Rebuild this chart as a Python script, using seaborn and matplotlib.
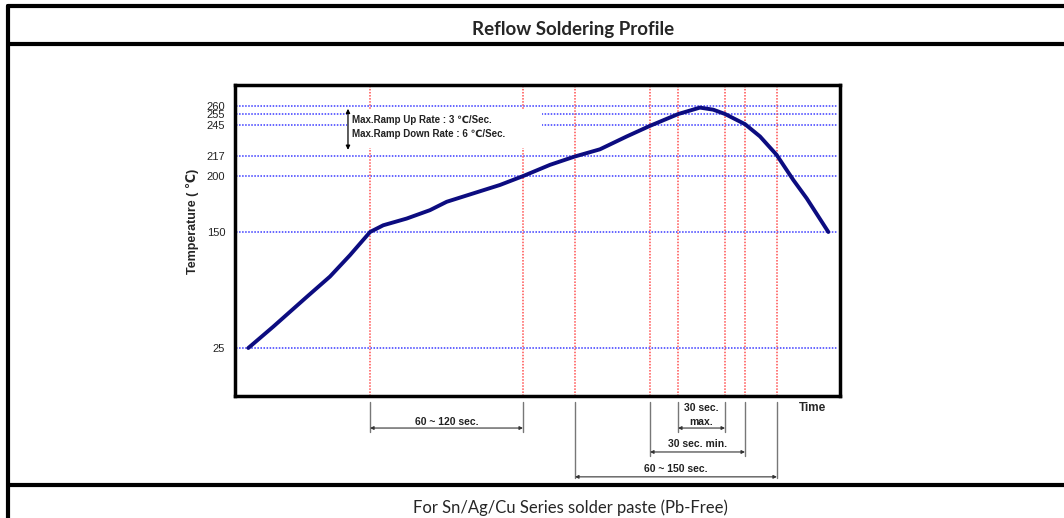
"""Reflow soldering profile (Pb-free) drawn with seaborn."""

import matplotlib
matplotlib.use('Agg')
import matplotlib.pyplot as plt
from matplotlib.lines import Line2D
from matplotlib.patches import Rectangle
import numpy as np
import seaborn as sns

# profile curve: time (arbitrary units) and temperature (C)
time = [8.8, 25.3, 47.4, 62.8, 76.0, 89.3, 98.0, 113.5, 128.9, 140.0,
        157.6, 175.2, 190.6, 208.3, 224.5, 241.3, 259.0, 274.4, 293.1,
        307.4, 316.2, 324.0, 337.2, 347.1, 358.1, 369.1, 378.0, 392.3]
temp = [25, 48, 80, 102, 125, 150, 156, 162, 169.5, 177,
        184.5, 192, 200, 209.5, 216.5, 223, 234.5, 244, 255,
        259, 257.7, 255, 245.5, 234.5, 218, 196.5, 180, 150]

temp_ticks = [25, 150, 200, 217, 245, 255, 260]
time_marks = [89.3, 190.4, 224.8, 274.4, 292.9, 324.0, 337.2, 358.3]

# spans under the time axis: (start, end, label)
spans = [
    (89.3, 190.4, '60 ~ 120 sec.'),
    (292.9, 324.0, '30 sec.\nmax.'),
    (274.4, 337.2, '30 sec. min.'),
    (224.8, 358.3, '60 ~ 150 sec.'),
]

# the temperature axis of the original is not evenly spaced
scale_t = [-27, 25, 150, 200, 217, 245, 255, 260, 275]
scale_pos = [0, 48, 164, 220, 240, 271.3, 282, 290, 311]


def forward(t):
    return np.interp(t, scale_t, scale_pos)


def inverse(p):
    return np.interp(p, scale_pos, scale_t)


sns.set_style('white')
plt.rcParams['font.family'] = ['Liberation Sans', 'DejaVu Sans']

fig = plt.figure(figsize=(10.64, 5.18), dpi=100)
W, H = 1064, 518
ax = fig.add_axes([235 / W, (H - 396) / H, 605 / W, 311 / H])
ax.set_yscale('function', functions=(forward, inverse))
ax.set_xlim(0, 400)
ax.set_ylim(-27, 275)

# guide lines
for t in temp_ticks:
    ax.axhline(t, xmin=0.002, xmax=0.995, color='#3a3aff', lw=1.1,
               ls=(0, (1, 1)), zorder=1)
for m in time_marks:
    ax.axvline(m, color='#ff5050', lw=1.1, ls=(0, (1, 1)), zorder=1)

# blank area behind the ramp rate note
ax.add_patch(Rectangle((74, 224), 129, 33.5, facecolor='white',
                       edgecolor='none', zorder=2))
ax.annotate('', xy=(74.7, 260), xytext=(74.7, 220),
            arrowprops=dict(arrowstyle='<|-|>', color='black', lw=0.9,
                            mutation_scale=6), zorder=3)
ax.text(77.4, 249.4, 'Max.Ramp Up Rate : 3 \u2103/Sec.', fontsize=7,
        fontweight='bold', color='#222222', va='center', zorder=3)
ax.text(77.4, 236.7, 'Max.Ramp Down Rate : 6 \u2103/Sec.', fontsize=7,
        fontweight='bold', color='#222222', va='center', zorder=3)

sns.lineplot(x=time, y=temp, ax=ax, color='#0c0c80', lw=2.8, sort=False,
             zorder=4, solid_joinstyle='round', solid_capstyle='round')

ax.set_xticks([])
ax.set_yticks(temp_ticks)
ax.set_yticklabels([str(t) for t in temp_ticks], fontsize=8,
                   color='#222222')
ax.tick_params(axis='y', length=0, pad=7)
ax.set_xlabel('')
ax.set_ylabel('Temperature ( \u2103)', fontsize=9, fontweight='bold')
ax.yaxis.set_label_coords((199 - 235) / 605, 0.56)
for s in ax.spines.values():
    s.set_color('black')
    s.set_linewidth(2.5)

# spans below the axis
trans = ax.get_xaxis_transform()
rows = [(-0.116, -0.103, -0.082), (-0.116, -0.103, -0.06),
        (-0.193, -0.180, -0.154), (-0.264, -0.260, -0.235)]
for (a, b, label), (bottom, arrow_y, text_y) in zip(spans, rows):
    for x in (a, b):
        ax.add_line(Line2D([x, x], [-0.019, bottom], transform=trans,
                           color='#777777', lw=1, clip_on=False))
    ax.annotate('', xy=(b, arrow_y), xytext=(a, arrow_y), xycoords=trans,
                textcoords=trans,
                arrowprops=dict(arrowstyle='<|-|>', color='#333333', lw=0.8,
                                mutation_scale=5, shrinkA=0, shrinkB=0),
                annotation_clip=False)
    ax.text((a + b) / 2, text_y, label, transform=trans, fontsize=7.5,
            fontweight='bold', color='#222222', ha='center', va='center',
            linespacing=1.5)
ax.text(381.5, -0.039, 'Time', transform=trans, fontsize=8.5,
        fontweight='bold', ha='center', va='center')

# table frame around the chart
frame = dict(color='black', lw=3, transform=fig.transFigure)
fig.add_artist(Line2D([8 / W, 1], [1 - 6 / H, 1 - 6 / H], **frame))
fig.add_artist(Line2D([8 / W, 1], [1 - 44 / H, 1 - 44 / H], **frame))
fig.add_artist(Line2D([8 / W, 1], [1 - 485 / H, 1 - 485 / H], **frame))
fig.add_artist(Line2D([8 / W, 8 / W], [0, 1 - 6 / H], **frame))

fig.text(573 / W, 1 - 29 / H, 'Reflow Soldering Profile', fontsize=13.5,
         fontweight='bold', family=['Lato', 'DejaVu Sans'],
         ha='center', va='center')
fig.text(570 / W, 1 - 508 / H, 'For Sn/Ag/Cu Series solder paste (Pb-Free)',
         fontsize=12, family=['Lato', 'DejaVu Sans'], ha='center',
         va='center')

fig.savefig('out.png', dpi=100)
